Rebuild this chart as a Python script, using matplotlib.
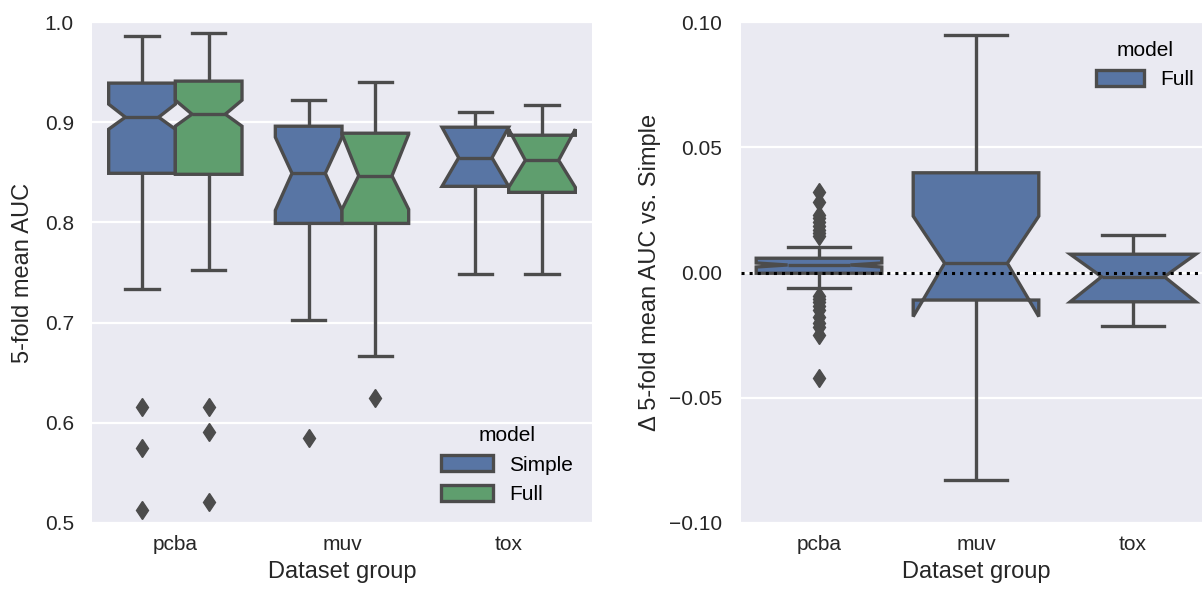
import matplotlib
matplotlib.use('Agg')
import matplotlib.pyplot as plt
from matplotlib.patches import Patch

# Dataset groups
categories = ['pcba', 'muv', 'tox']

# Left panel: 5-fold mean AUC per model (box summary)
simple_q1 = [0.849, 0.799, 0.836]
simple_med = [0.905, 0.849, 0.8645]
simple_q3 = [0.939, 0.896, 0.895]
simple_lo = [0.734, 0.7025, 0.749]
simple_hi = [0.986, 0.922, 0.910]
simple_cilo = [0.893, 0.812, 0.836]
simple_cihi = [0.918, 0.885, 0.895]
simple_fliers = [[0.616, 0.575, 0.513], [0.585], []]

full_q1 = [0.848, 0.799, 0.830]
full_med = [0.908, 0.8465, 0.862]
full_q3 = [0.941, 0.889, 0.887]
full_lo = [0.7525, 0.667, 0.7486]
full_hi = [0.989, 0.940, 0.917]
full_cilo = [0.896, 0.813, 0.835]
full_cihi = [0.922, 0.888, 0.893]
full_fliers = [[0.6155, 0.5905, 0.521], [0.625], []]

# Right panel: Full minus Simple
delta_q1 = [-0.0003, -0.011, -0.0117]
delta_med = [0.003, 0.0037, -0.0017]
delta_q3 = [0.0057, 0.0398, 0.0073]
delta_lo = [-0.0063, -0.0828, -0.0212]
delta_hi = [0.0101, 0.0948, 0.0150]
delta_cilo = [0.0022, -0.0176, -0.0117]
delta_cihi = [0.0038, 0.0225, 0.0073]
delta_fliers = [
    [0.0323, 0.0283, 0.0230, 0.0216, 0.0200, 0.0185, 0.0170, 0.0158, 0.0147,
     -0.0092, -0.0105, -0.0118, -0.0132, -0.0150, -0.0176, -0.0200, -0.0216,
     -0.0250, -0.0423],
    [],
    [],
]

left_yticks = [0.5, 0.6, 0.7, 0.8, 0.9, 1.0]
right_yticks = [-0.10, -0.05, 0.00, 0.05, 0.10]

blue = '#5875A4'
green = '#5F9E6E'
gray = '#4c4c4c'
bg = '#EAEAF2'
tick_fs = 15
label_fs = 17

plt.rcParams['font.family'] = ['Liberation Sans', 'DejaVu Sans']
plt.rcParams['axes.unicode_minus'] = True


def make_stats(q1, med, q3, lo, hi, cilo, cihi, fliers):
    stats = []
    for i in range(len(q1)):
        stats.append(dict(q1=q1[i], med=med[i], q3=q3[i], whislo=lo[i], whishi=hi[i],
                          cilo=cilo[i], cihi=cihi[i], fliers=fliers[i]))
    return stats


def draw_boxes(ax, stats, positions, width, color):
    lw = 2.4
    bp = ax.bxp(stats, positions=positions, widths=width, shownotches=True,
                patch_artist=True, manage_ticks=False,
                boxprops=dict(facecolor=color, edgecolor=gray, linewidth=lw),
                medianprops=dict(color=gray, linewidth=lw),
                whiskerprops=dict(color=gray, linewidth=lw, solid_capstyle='butt'),
                capprops=dict(color=gray, linewidth=lw),
                flierprops=dict(marker='d', markerfacecolor=gray, markeredgecolor=gray,
                                markersize=9.5, linestyle='none'))
    return bp


def style_axes(ax):
    ax.set_facecolor(bg)
    for s in ax.spines.values():
        s.set_visible(False)
    ax.grid(axis='y', color='white', linewidth=1.6)
    ax.set_axisbelow(True)
    ax.tick_params(axis='y', length=0, pad=13, colors='#262626')
    ax.tick_params(axis='x', length=0, pad=9, colors='#262626')


fig = plt.figure(figsize=(12.02, 5.92), dpi=100)

# left panel
ax1 = fig.add_axes([92 / 1202, 69 / 592, 500 / 1202, 501 / 592])
style_axes(ax1)
x = list(range(len(categories)))
draw_boxes(ax1, make_stats(simple_q1, simple_med, simple_q3, simple_lo, simple_hi,
                           simple_cilo, simple_cihi, simple_fliers),
           [i - 0.2 for i in x], 0.4, blue)
draw_boxes(ax1, make_stats(full_q1, full_med, full_q3, full_lo, full_hi,
                           full_cilo, full_cihi, full_fliers),
           [i + 0.2 for i in x], 0.4, green)
ax1.set_xlim(-0.5, 2.5)
ax1.set_ylim(0.5, 1.0)
ax1.set_xticks(x)
ax1.set_xticklabels(categories, fontsize=tick_fs)
ax1.set_yticks(left_yticks)
ax1.set_yticklabels(['%.1f' % v for v in left_yticks], fontsize=tick_fs)
ax1.set_xlabel('Dataset group', fontsize=label_fs, color='#262626', labelpad=5)
ax1.set_ylabel('5-fold mean AUC', fontsize=label_fs, color='#262626', labelpad=8)
handles = [Patch(facecolor=blue, edgecolor=gray, linewidth=2.4, label='Simple'),
           Patch(facecolor=green, edgecolor=gray, linewidth=2.4, label='Full')]
ax1.legend(handles=handles, title='model', loc='lower right', frameon=False,
           fontsize=15, title_fontsize=15, handlelength=2.5, handleheight=0.8)

# right panel (extends past the right edge like the original)
ax2 = fig.add_axes([740.5 / 1202, 69 / 592, 471 / 1202, 501 / 592])
style_axes(ax2)
draw_boxes(ax2, make_stats(delta_q1, delta_med, delta_q3, delta_lo, delta_hi,
                           delta_cilo, delta_cihi, delta_fliers),
           x, 0.8, blue)
ax2.axhline(0, color='black', linestyle=':', linewidth=2.2, zorder=5)
ax2.set_xlim(-0.5, 2.5)
ax2.set_ylim(-0.10, 0.10)
ax2.set_xticks(x)
ax2.set_xticklabels(categories, fontsize=tick_fs)
ax2.set_yticks(right_yticks)
ax2.set_yticklabels(['%.2f' % v if v >= 0 else '\u2212%.2f' % -v for v in right_yticks],
                    fontsize=tick_fs)
ax2.set_xlabel('Dataset group', fontsize=label_fs, color='#262626', labelpad=5)
ax2.set_ylabel('\u0394 5-fold mean AUC vs. Simple', fontsize=label_fs, color='#262626',
               labelpad=6)
ax2.legend(handles=[Patch(facecolor=blue, edgecolor=gray, linewidth=2.4, label='Full')],
           title='model', loc='upper left', bbox_to_anchor=(0.715, 1.0), frameon=False,
           fontsize=15, title_fontsize=15, handlelength=2.3, handleheight=0.8)

fig.savefig('out.png', dpi=100)
